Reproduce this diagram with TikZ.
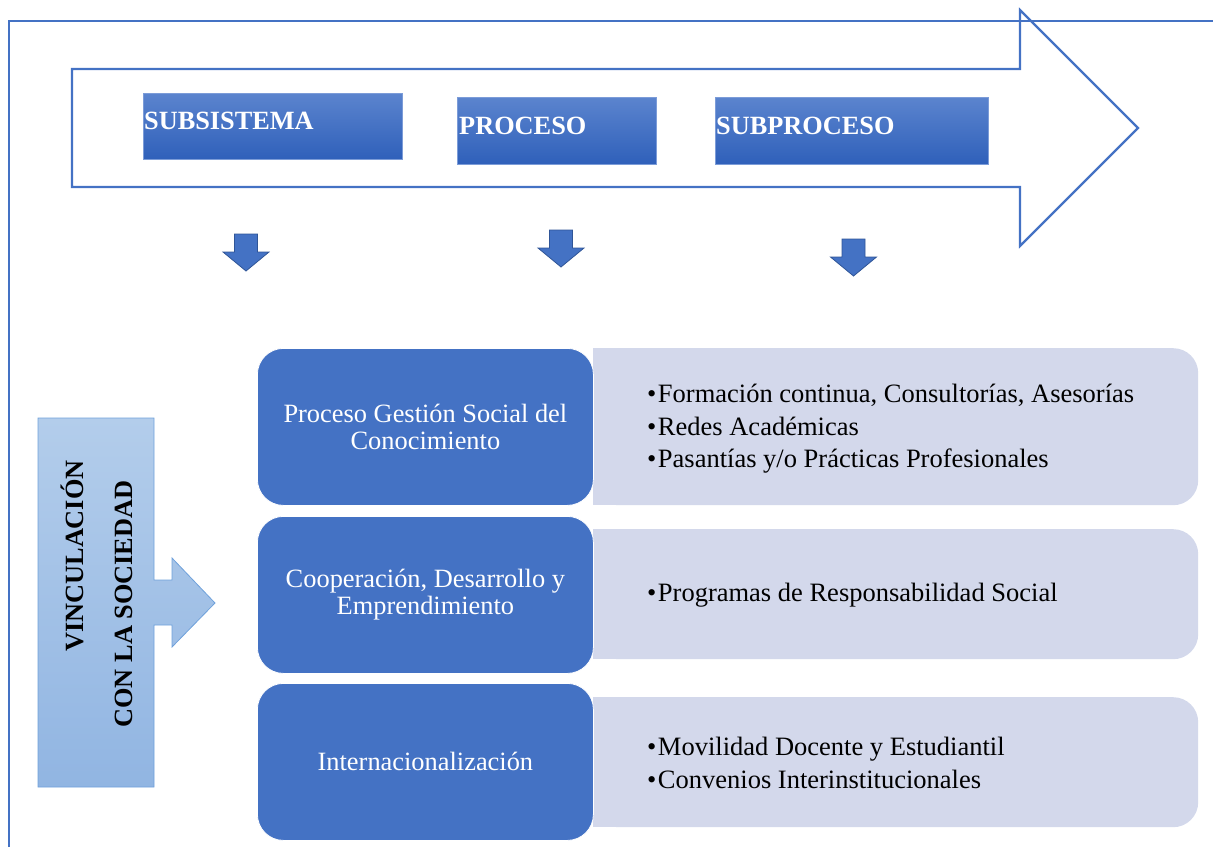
\documentclass[tikz,border=0pt]{standalone}
\usepackage{fontspec}
\setmainfont{Liberation Serif}
\definecolor{mainblue}{HTML}{4472C4}
\definecolor{darkblue}{HTML}{2F5597}
\definecolor{lightpanel}{HTML}{D3D8EB}
\definecolor{hdrtop}{HTML}{5B84CE}
\definecolor{hdrbot}{HTML}{2F60BA}
\definecolor{hdredge}{HTML}{7C9CD8}
\definecolor{vtop}{HTML}{B3CDEB}
\definecolor{vbot}{HTML}{91B5E2}
\definecolor{vedge}{HTML}{6FA1DB}
\newcommand{\itembul}{•\hspace{1.5pt}}
\begin{document}
\begin{tikzpicture}[x=1pt,y=-1pt,
  frameline/.style={draw=mainblue, line width=2.4pt},
  bigarrow/.style={draw=mainblue, line width=2.2pt, line join=miter},
  hdrbox/.style={draw=hdredge, line width=0.6pt, top color=hdrtop, bottom color=hdrbot, anchor=north west, inner sep=0pt},
  hdrtext/.style={anchor=base west, inner sep=0pt, text=white, font=\fontsize{26.3}{27}\selectfont\bfseries},
  procbox/.style={fill=mainblue, draw=white, line width=0.8pt, rounded corners=26pt, minimum width=336pt, minimum height=157pt, anchor=north west, text=white, align=center, font=\fontsize{26.4}{27}\selectfont, inner sep=0pt},
  panel/.style={fill=lightpanel, rounded corners=25pt, minimum width=605pt, anchor=north west, inner sep=0pt},
  itemtext/.style={anchor=west, align=left, inner sep=0pt, font=\fontsize{26.5}{32.5}\selectfont},
  downarrow/.style={fill=mainblue, draw=darkblue, line width=0.8pt, line join=miter},
  vshape/.style={draw=vedge, line width=0.8pt, top color=vtop, bottom color=vbot, line join=miter},
  vtext/.style={rotate=90, anchor=base, inner sep=0pt, font=\fontsize{26.3}{27}\selectfont\bfseries},
  downarr/.pic={\path[downarrow] (-11.5,0) -- (11.5,0) -- (11.5,18) -- (23,18) -- (0,37) -- (-23,18) -- (-11.5,18) -- cycle;}
]
\useasboundingbox (0,0) rectangle (1213,847);

% big process arrow
\path[bigarrow] (72,69) -- (1020,69) -- (1020,10) -- (1138,128) -- (1020,246) -- (1020,187) -- (72,187) -- cycle;
% outer frame
\draw[frameline] (9,847) -- (9,21) -- (1213,21);

% header boxes
\node[hdrbox, minimum width=259pt, minimum height=66pt] (hsub) at (143,93) {};
\node[hdrtext] (tsub) at (144,129) {SUBSISTEMA};
\node[hdrbox, minimum width=199pt, minimum height=67pt] (hproc) at (457,97) {};
\node[hdrtext] (tproc) at (459,134) {PROCESO};
\node[hdrbox, minimum width=273pt, minimum height=67pt] (hsubp) at (715,97) {};
\node[hdrtext] (tsubp) at (716,134) {SUBPROCESO};

% small down arrows
\pic (a1) at (246,234) {downarr};
\pic (a2) at (561,230) {downarr};
\pic (a3) at (853.5,239) {downarr};

% left block with arrow
\path[vshape] (38,418) -- (154,418) -- (154,580) -- (172,580) -- (172,558) -- (215,603) -- (172,647) -- (172,625) -- (154,625) -- (154,787) -- (38,787) -- cycle;
\node[vtext] (v1) at (83,556) {VINCULACIÓN};
\node[vtext] (v2) at (132,604) {CON LA SOCIEDAD};

% light panels
\node[panel, minimum height=157pt] (p1) at (593,348) {};
\fill[lightpanel] (p1.north west) rectangle ([xshift=30pt]p1.south west);
\node[panel, minimum height=130pt] (p2) at (593,529) {};
\fill[lightpanel] (p2.north west) rectangle ([xshift=30pt]p2.south west);
\node[panel, minimum height=130pt] (p3) at (593,697) {};
\fill[lightpanel] (p3.north west) rectangle ([xshift=30pt]p3.south west);

% process boxes
\node[procbox] (b1) at (257,348) {Proceso Gestión Social del\\Conocimiento};
\node[procbox] (b2) at (257,516) {Cooperación, Desarrollo y\\Emprendimiento};
\node[procbox] (b3) at (257,683) {Internacionalización};

% panel texts
\node[itemtext] (i1) at (647,429) {\itembul Formación continua, Consultorías, Asesorías\\\itembul Redes Académicas\\\itembul Pasantías y/o Prácticas Profesionales};
\node[itemtext] (i2) at (647,595) {\itembul Programas de Responsabilidad Social};
\node[itemtext] (i3) at (647,763) {\itembul Movilidad Docente y Estudiantil\\\itembul Convenios Interinstitucionales};
\end{tikzpicture}
\end{document}
